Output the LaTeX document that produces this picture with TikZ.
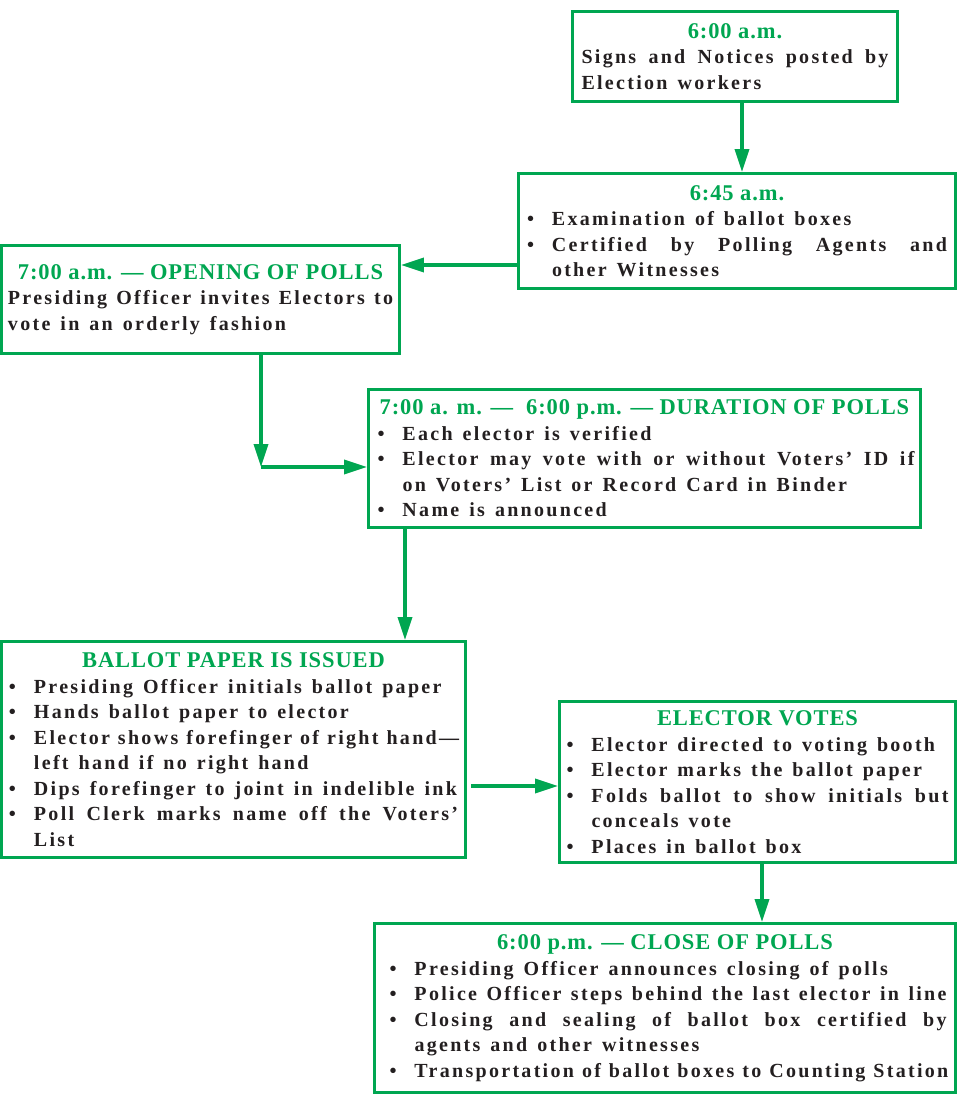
\documentclass[tikz,border=0pt]{standalone}
\usepackage{fontspec}
\setmainfont{Liberation Serif}[LetterSpace=11.5]
\newfontfamily\headfont{Liberation Serif}[LetterSpace=4]
\usetikzlibrary{arrows.meta}

\definecolor{pollgreen}{RGB}{0,166,81}
\definecolor{ink}{RGB}{35,31,32}

\newcommand\bitem{\par\hangindent=25pt\hangafter=1\noindent\makebox[25pt][l]{\textbullet}}
\newcommand\boxhead[1]{{\centering\spaceskip=0pt\headfont\fontsize{22.5}{25.5}\selectfont\color{pollgreen}#1\par}}

\tikzset{
  stagebox/.style={draw=pollgreen, line width=2.8pt, inner sep=0pt, text=ink, align=justify,
    font=\bfseries\fontsize{20}{25.5}\selectfont,
    execute at begin node={\parindent=0pt\tolerance=9999\emergencystretch=2em\hyphenpenalty=10000
      \spaceskip=0.5em plus 0.4em minus 0.1em}},
  flow/.style={draw=pollgreen, line width=3.5pt, -{Triangle[length=23pt,width=14pt]}}
}

\begin{document}
\begin{tikzpicture}[x=1pt, y=-1pt]
  \useasboundingbox (0,0) rectangle (957,1095);

  \node [stagebox, minimum width=325pt, minimum height=90pt, text width=307pt] (signs) at (735,56.5)
    {\boxhead{6:00 a.m.}Signs and Notices posted by\linebreak Election workers\par};
  \node [stagebox, minimum width=437pt, minimum height=115pt, text width=420pt] (boxes) at (737,231)
    {\boxhead{6:45 a.m.}\bitem Examination of ballot boxes
     \bitem Certified by Polling Agents and\linebreak other Witnesses\par};
  \node [stagebox, minimum width=398pt, minimum height=108pt, text width=385pt] (opening) at (200.5,299.5)
    {\boxhead{7:00 a.m. — OPENING OF POLLS}Presiding Officer invites Electors to\linebreak vote in an orderly fashion\par};
  \node [stagebox, minimum width=552pt, minimum height=138pt, text width=540pt] (duration) at (644.5,458.5)
    {\leftskip=3pt\boxhead{7:00 a. m. —\ \ 6:00 p.m. — DURATION OF POLLS}\bitem Each elector is verified
     \bitem Elector may vote with or without Voters’ ID if\linebreak on Voters’ List or Record Card in Binder
     \bitem Name is announced\par};
  \node [stagebox, minimum width=464pt, minimum height=216pt, text width=449pt] (ballot) at (233.5,749.5)
    {\boxhead{BALLOT PAPER IS ISSUED}\bitem Presiding Officer initials ballot paper
     \bitem Hands ballot paper to elector
     \bitem Elector shows forefinger of right hand—\linebreak left hand if no right hand
     \bitem Dips forefinger to joint in indelible ink
     \bitem Poll Clerk marks name off the Voters’\linebreak List\par};
  \node [stagebox, minimum width=396pt, minimum height=161pt, text width=382pt] (votes) at (757.5,782)
    {\boxhead{ELECTOR VOTES}\bitem Elector directed to voting booth
     \bitem Elector marks the ballot paper
     \bitem Folds ballot to show initials but\linebreak conceals vote
     \bitem Places in ballot box\par};
  \node [stagebox, minimum width=581pt, minimum height=169pt, text width=563pt] (closing) at (665,1008)
    {\leftskip=6pt\boxhead{6:00 p.m. — CLOSE OF POLLS}\bitem Presiding Officer announces closing of polls
     \bitem Police Officer steps behind the last elector in line
     \bitem Closing and sealing of ballot box certified by\linebreak agents and other witnesses
     \bitem Transportation of ballot boxes to Counting Station\par};

  % connectors
  \coordinate (signsout) at ([xshift=7pt]signs.south);
  \coordinate (boxesout) at ([yshift=-34pt]boxes.west);
  \coordinate (openout) at ([xshift=60.5pt]opening.south);
  \coordinate (turn) at (261,467);
  \coordinate (durout) at ([xshift=-239.5pt]duration.south);
  \coordinate (ballotout) at ([xshift=4pt,yshift=-36.5pt]ballot.east);
  \coordinate (votesout) at ([xshift=4.5pt]votes.south);
  \draw [flow] (signsout) -- (signsout |- boxes.north);
  \draw [flow] (boxesout) -- (opening.east |- boxesout);
  \draw [flow] (openout) -- (turn);
  \draw [flow] (turn) -- (duration.west |- turn);
  \draw [flow] (durout) -- (durout |- ballot.north);
  \draw [flow] (ballotout) -- (votes.west |- ballotout);
  \draw [flow] (votesout) -- (votesout |- closing.north);
\end{tikzpicture}
\end{document}
